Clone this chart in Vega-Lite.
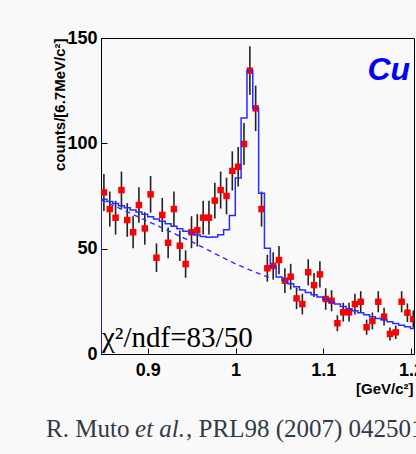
{
  "$schema": "https://vega.github.io/schema/vega-lite/v6.json",
  "width": 313,
  "height": 316,
  "autosize": {"type": "none"},
  "padding": {"left": 101, "top": 38, "right": 2, "bottom": 100},
  "background": "#f9f9f9",
  "config": {
    "view": {"stroke": "#000000", "strokeWidth": 1, "fill": "#f9f9f9"}
  },
  "datasets": {
    "pts": [
      {"x":0.8500,"y":76.7,"lo":67.9,"hi":85.5},
      {"x":0.8567,"y":68.8,"lo":60.5,"hi":77.1},
      {"x":0.8633,"y":64.7,"lo":56.7,"hi":72.7},
      {"x":0.8700,"y":77.8,"lo":69.0,"hi":86.6},
      {"x":0.8766,"y":63.6,"lo":55.6,"hi":71.6},
      {"x":0.8833,"y":57.8,"lo":50.2,"hi":65.4},
      {"x":0.8899,"y":70.7,"lo":62.3,"hi":79.1},
      {"x":0.8966,"y":59.6,"lo":51.9,"hi":67.3},
      {"x":0.9032,"y":75.8,"lo":67.1,"hi":84.5},
      {"x":0.9099,"y":45.7,"lo":38.9,"hi":52.5},
      {"x":0.9165,"y":66.0,"lo":57.9,"hi":74.1},
      {"x":0.9232,"y":52.8,"lo":45.5,"hi":60.1},
      {"x":0.9298,"y":68.8,"lo":60.5,"hi":77.1},
      {"x":0.9365,"y":51.4,"lo":44.2,"hi":58.6},
      {"x":0.9431,"y":42.7,"lo":36.2,"hi":49.2},
      {"x":0.9498,"y":57.8,"lo":50.2,"hi":65.4},
      {"x":0.9564,"y":58.7,"lo":51.0,"hi":66.4},
      {"x":0.9631,"y":64.7,"lo":56.7,"hi":72.7},
      {"x":0.9697,"y":64.7,"lo":56.7,"hi":72.7},
      {"x":0.9764,"y":72.8,"lo":64.3,"hi":81.3},
      {"x":0.9830,"y":77.8,"lo":69.0,"hi":86.6},
      {"x":0.9897,"y":75.0,"lo":66.3,"hi":83.7},
      {"x":0.9963,"y":86.9,"lo":77.6,"hi":96.2},
      {"x":1.0030,"y":88.9,"lo":79.5,"hi":98.3},
      {"x":1.0096,"y":99.7,"lo":89.7,"hi":109.7},
      {"x":1.0163,"y":134.5,"lo":122.9,"hi":146.1},
      {"x":1.0229,"y":116.6,"lo":105.8,"hi":127.4},
      {"x":1.0296,"y":68.8,"lo":60.5,"hi":77.1},
      {"x":1.0362,"y":40.7,"lo":34.3,"hi":47.1},
      {"x":1.0429,"y":41.8,"lo":35.3,"hi":48.3},
      {"x":1.0495,"y":44.6,"lo":37.9,"hi":51.3},
      {"x":1.0562,"y":34.8,"lo":28.9,"hi":40.7},
      {"x":1.0628,"y":36.7,"lo":30.6,"hi":42.8},
      {"x":1.0695,"y":26.4,"lo":21.3,"hi":31.5},
      {"x":1.0761,"y":23.7,"lo":18.8,"hi":28.6},
      {"x":1.0828,"y":38.8,"lo":32.6,"hi":45.0},
      {"x":1.0894,"y":32.7,"lo":27.0,"hi":38.4},
      {"x":1.0961,"y":37.8,"lo":31.6,"hi":44.0},
      {"x":1.1027,"y":26.1,"lo":21.0,"hi":31.2},
      {"x":1.1094,"y":25.3,"lo":20.3,"hi":30.3},
      {"x":1.1160,"y":14.6,"lo":10.8,"hi":18.4},
      {"x":1.1227,"y":19.8,"lo":15.4,"hi":24.3},
      {"x":1.1293,"y":19.8,"lo":15.4,"hi":24.3},
      {"x":1.1360,"y":23.7,"lo":18.8,"hi":28.6},
      {"x":1.1426,"y":24.8,"lo":19.8,"hi":29.8},
      {"x":1.1493,"y":12.7,"lo":9.1,"hi":16.3},
      {"x":1.1559,"y":15.7,"lo":11.7,"hi":19.7},
      {"x":1.1626,"y":24.8,"lo":19.8,"hi":29.8},
      {"x":1.1692,"y":17.7,"lo":13.5,"hi":21.9},
      {"x":1.1759,"y":9.5,"lo":6.4,"hi":12.6},
      {"x":1.1825,"y":10.3,"lo":7.1,"hi":13.5},
      {"x":1.1892,"y":24.8,"lo":19.8,"hi":29.8},
      {"x":1.1958,"y":19.6,"lo":15.2,"hi":24.0},
      {"x":1.2025,"y":16.6,"lo":12.5,"hi":20.7}
    ],
    "fit": [
      {"k":0,"x":0.8467,"y":0},
      {"k":1,"x":0.8467,"y":73.4},
      {"k":2,"x":0.8534,"y":72.4},
      {"k":3,"x":0.8600,"y":71.4},
      {"k":4,"x":0.8667,"y":70.4},
      {"k":5,"x":0.8733,"y":69.4},
      {"k":6,"x":0.8800,"y":68.4},
      {"k":7,"x":0.8866,"y":67.4},
      {"k":8,"x":0.8933,"y":66.3},
      {"k":9,"x":0.8999,"y":65.2},
      {"k":10,"x":0.9066,"y":64.1},
      {"k":11,"x":0.9132,"y":63.0},
      {"k":12,"x":0.9199,"y":61.8},
      {"k":13,"x":0.9265,"y":60.6},
      {"k":14,"x":0.9332,"y":59.4},
      {"k":15,"x":0.9398,"y":58.3},
      {"k":16,"x":0.9465,"y":57.3},
      {"k":17,"x":0.9531,"y":56.5},
      {"k":18,"x":0.9598,"y":55.8},
      {"k":19,"x":0.9664,"y":55.4},
      {"k":20,"x":0.9731,"y":55.5},
      {"k":21,"x":0.9797,"y":56.6},
      {"k":22,"x":0.9864,"y":59.0},
      {"k":23,"x":0.9930,"y":65.8},
      {"k":24,"x":0.9997,"y":83.5},
      {"k":25,"x":1.0063,"y":112.0},
      {"k":26,"x":1.0130,"y":134.5},
      {"k":27,"x":1.0196,"y":116.6},
      {"k":28,"x":1.0263,"y":76.3},
      {"k":29,"x":1.0329,"y":50.2},
      {"k":30,"x":1.0396,"y":41.6},
      {"k":31,"x":1.0462,"y":36.6},
      {"k":32,"x":1.0529,"y":35.0},
      {"k":33,"x":1.0595,"y":33.4},
      {"k":34,"x":1.0662,"y":31.9},
      {"k":35,"x":1.0728,"y":30.4},
      {"k":36,"x":1.0795,"y":29.2},
      {"k":37,"x":1.0861,"y":28.1},
      {"k":38,"x":1.0928,"y":27.0},
      {"k":39,"x":1.0994,"y":25.9},
      {"k":40,"x":1.1061,"y":24.8},
      {"k":41,"x":1.1127,"y":23.7},
      {"k":42,"x":1.1194,"y":22.6},
      {"k":43,"x":1.1260,"y":21.5},
      {"k":44,"x":1.1327,"y":20.5},
      {"k":45,"x":1.1393,"y":19.6},
      {"k":46,"x":1.1460,"y":18.6},
      {"k":47,"x":1.1526,"y":17.7},
      {"k":48,"x":1.1593,"y":16.9},
      {"k":49,"x":1.1659,"y":16.1},
      {"k":50,"x":1.1726,"y":15.3},
      {"k":51,"x":1.1792,"y":14.5},
      {"k":52,"x":1.1859,"y":13.7},
      {"k":53,"x":1.1925,"y":12.9},
      {"k":54,"x":1.1992,"y":12.1},
      {"k":55,"x":1.2058,"y":12.1}
    ],
    "bg": [
      {"x":0.8467,"y":73.2},
      {"x":0.875,"y":67.8},
      {"x":0.9,"y":63.0},
      {"x":0.925,"y":58.2},
      {"x":0.95,"y":53.3},
      {"x":0.975,"y":48.0},
      {"x":1.0,"y":42.8},
      {"x":1.02,"y":39.3},
      {"x":1.04,"y":36.0}
    ],
    "chi": [{"t":"χ²/ndf=83/50","x":0.8478,"y":3.3}],
    "cu": [{"t":"Cu","x":1.1988,"y":130}],
    "cite1": [{"t":"R. Muto","x":0.7841,"y":-39.4},{"t":", PRL98 (2007) 042501","x":0.9436,"y":-39.4}],
    "cite2": [{"t":"et al.","x":0.8855,"y":-39.4}]
  },
  "layer": [
    {
      "data": {"name": "pts"},
      "mark": {"type": "rule", "color": "#222222", "strokeWidth": 1.6, "clip": true},
      "encoding": {
        "x": {"field": "x", "type": "quantitative", "scale": {"domain": [0.8467, 1.2033], "nice": false, "zero": false},
          "axis": {"values": [0.9, 1, 1.1, 1.2], "format": ".1~f", "grid": false, "labelFlush": false, "labelOverlap": false,
            "labelFont": "Liberation Sans", "labelFontWeight": "bold", "labelFontSize": 18, "labelColor": "#000000", "labelPadding": 13,
            "tickSize": -6, "tickColor": "#000000", "tickWidth": 1, "domainColor": "#000000", "domainWidth": 1,
            "title": "[GeV/c²]", "titleFont": "Liberation Sans", "titleFontWeight": "bold", "titleFontSize": 15, "titleColor": "#000000",
            "titleAlign": "right", "titleAnchor": "end", "titleBaseline": "alphabetic", "titleX": 312, "titleY": 39}},
        "y": {"field": "lo", "type": "quantitative", "scale": {"domain": [0, 150], "nice": false, "zero": false},
          "axis": {"values": [0, 50, 100, 150], "grid": false, "labelFlush": false, "labelOverlap": false, "labelFont": "Liberation Sans", "labelFontWeight": "bold", "labelFontSize": 18,
            "labelColor": "#000000", "labelPadding": 10, "tickSize": -6, "tickColor": "#000000", "domainColor": "#000000", "domainWidth": 1,
            "title": "counts/[6.7MeV/c²]", "titleFont": "Liberation Sans", "titleFontWeight": "bold", "titleFontSize": 15, "titleColor": "#000000",
            "titleAngle": -90, "titleAlign": "right", "titleBaseline": "alphabetic", "titleX": -37, "titleY": 0}},
        "y2": {"field": "hi"}
      }
    },
    {
      "data": {"name": "pts"},
      "mark": {"type": "point", "shape": "square", "filled": true, "size": 42, "color": "#ff0000", "opacity": 1, "clip": true},
      "encoding": {
        "x": {"field": "x", "type": "quantitative", "scale": {"domain": [0.8467, 1.2033], "nice": false, "zero": false}},
        "y": {"field": "y", "type": "quantitative", "scale": {"domain": [0, 150], "nice": false, "zero": false}}
      }
    },
    {
      "data": {"name": "bg"},
      "mark": {"type": "line", "color": "#2a2aff", "strokeWidth": 1.4, "strokeDash": [5, 4], "clip": true},
      "encoding": {
        "x": {"field": "x", "type": "quantitative", "scale": {"domain": [0.8467, 1.2033], "nice": false, "zero": false}},
        "y": {"field": "y", "type": "quantitative", "scale": {"domain": [0, 150], "nice": false, "zero": false}}
      }
    },
    {
      "data": {"name": "fit"},
      "mark": {"type": "line", "color": "#2a2aff", "strokeWidth": 1.5, "interpolate": "step-after", "clip": true},
      "encoding": {
        "x": {"field": "x", "type": "quantitative", "scale": {"domain": [0.8467, 1.2033], "nice": false, "zero": false}},
        "y": {"field": "y", "type": "quantitative", "scale": {"domain": [0, 150], "nice": false, "zero": false}},
        "order": {"field": "k", "type": "quantitative"}
      }
    },
    {
      "data": {"name": "chi"},
      "mark": {"type": "text", "font": "Liberation Serif", "fontSize": 29, "color": "#000000", "align": "left", "baseline": "alphabetic"},
      "encoding": {
        "x": {"field": "x", "type": "quantitative", "scale": {"domain": [0.8467, 1.2033], "nice": false, "zero": false}},
        "y": {"field": "y", "type": "quantitative", "scale": {"domain": [0, 150], "nice": false, "zero": false}},
        "text": {"field": "t"}
      }
    },
    {
      "data": {"name": "cu"},
      "mark": {"type": "text", "font": "Liberation Sans", "fontSize": 32, "fontWeight": "bold", "fontStyle": "italic", "color": "#0000ff", "align": "right", "baseline": "alphabetic"},
      "encoding": {
        "x": {"field": "x", "type": "quantitative", "scale": {"domain": [0.8467, 1.2033], "nice": false, "zero": false}},
        "y": {"field": "y", "type": "quantitative", "scale": {"domain": [0, 150], "nice": false, "zero": false}},
        "text": {"field": "t"}
      }
    },
    {
      "data": {"name": "cite1"},
      "mark": {"type": "text", "font": "Liberation Serif", "fontSize": 25, "color": "#2f3b48", "align": "left", "baseline": "alphabetic"},
      "encoding": {
        "x": {"field": "x", "type": "quantitative", "scale": {"domain": [0.8467, 1.2033], "nice": false, "zero": false}},
        "y": {"field": "y", "type": "quantitative", "scale": {"domain": [0, 150], "nice": false, "zero": false}},
        "text": {"field": "t"}
      }
    },
    {
      "data": {"name": "cite2"},
      "mark": {"type": "text", "font": "Liberation Serif", "fontSize": 25, "fontStyle": "italic", "color": "#2f3b48", "align": "left", "baseline": "alphabetic"},
      "encoding": {
        "x": {"field": "x", "type": "quantitative", "scale": {"domain": [0.8467, 1.2033], "nice": false, "zero": false}},
        "y": {"field": "y", "type": "quantitative", "scale": {"domain": [0, 150], "nice": false, "zero": false}},
        "text": {"field": "t"}
      }
    }
  ]
}
